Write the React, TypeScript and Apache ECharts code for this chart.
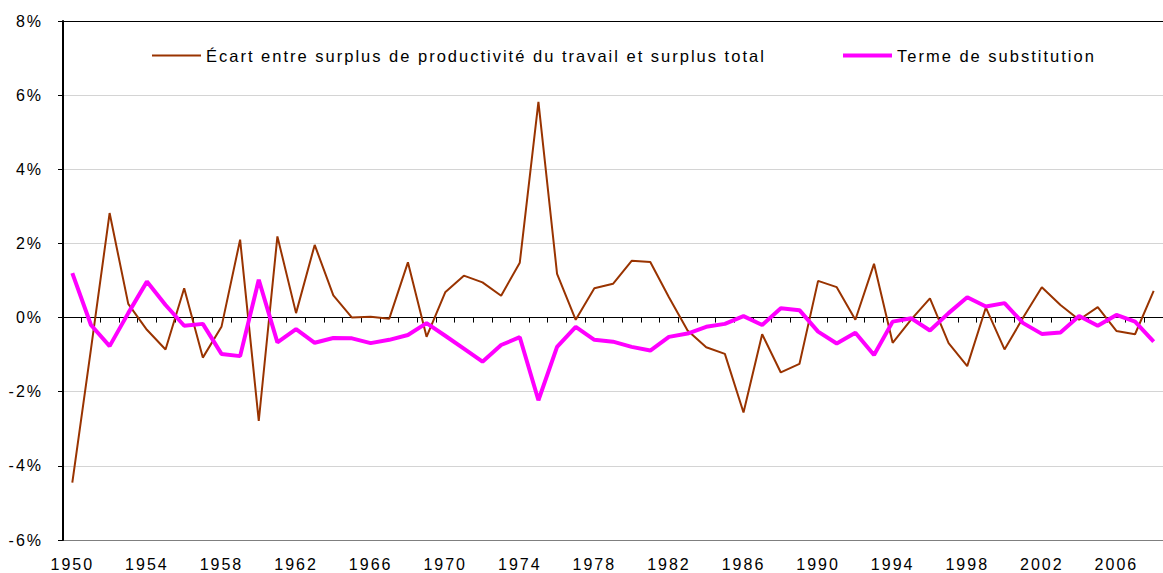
import React, { useEffect, useRef } from "react";
import * as echarts from "echarts";

const years: string[] = [];
for (let y = 1950; y <= 2008; y++) years.push(String(y));

const ecartSeries = [
  -4.45, -0.85, 2.82, 0.37, -0.33, -0.86, 0.79, -1.08, -0.25, 2.1,
  -2.79, 2.19, 0.12, 1.96, 0.6, 0.0, 0.02, -0.03, 1.49, -0.52,
  0.68, 1.13, 0.95, 0.59, 1.48, 5.82, 1.18, -0.06, 0.79, 0.91,
  1.53, 1.5, 0.55, -0.35, -0.8, -0.98, -2.56, -0.45, -1.48, -1.25,
  0.99, 0.82, -0.06, 1.45, -0.68, -0.05, 0.52, -0.69, -1.31, 0.27,
  -0.86, 0.0, 0.82, 0.34, -0.06, 0.28, -0.36, -0.45, 0.72,
];

const substitutionSeries = [
  1.2, -0.2, -0.77, 0.12, 0.97, 0.34, -0.22, -0.17, -0.98, -1.04,
  1.02, -0.67, -0.31, -0.68, -0.55, -0.56, -0.69, -0.6, -0.47, -0.15,
  -0.49, -0.84, -1.19, -0.74, -0.53, -2.23, -0.79, -0.25, -0.6, -0.65,
  -0.79, -0.89, -0.52, -0.43, -0.25, -0.17, 0.04, -0.2, 0.25, 0.2,
  -0.38, -0.7, -0.41, -1.01, -0.11, -0.02, -0.35, 0.12, 0.55, 0.3,
  0.39, -0.15, -0.44, -0.4, 0.04, -0.22, 0.07, -0.11, -0.65,
];

const name1 = "Écart entre surplus de productivité du travail et surplus total";
const name2 = "Terme de substitution";

const FONT = "'Liberation Sans', Arial, sans-serif";

export default function App() {
  const ref = useRef<HTMLDivElement>(null);
  useEffect(() => {
    if (!ref.current) return;
    const chart = echarts.init(ref.current, null, { renderer: "svg" });
    const legendBase = {
      top: 47,
      padding: 0,
      itemWidth: 49,
      itemHeight: 14,
      itemStyle: { opacity: 0 },
      textStyle: { fontSize: 16.5, color: "#000", fontFamily: FONT },
    };
    chart.setOption({
      animation: false,
      backgroundColor: "#ffffff",
      textStyle: { fontFamily: FONT, color: "#000" },
      grid: { left: 63, top: 21, width: 1110, height: 519, containLabel: false },
      legend: [
        { ...legendBase, data: [name1], left: 151, lineStyle: { width: 2 } },
        { ...legendBase, data: [name2], left: 841, lineStyle: { width: 4 } },
      ],
      xAxis: [
        {
          type: "category",
          data: years,
          boundaryGap: true,
          position: "bottom",
          axisLine: { show: false, onZero: false },
          axisTick: { show: false },
          splitLine: { show: false },
          axisLabel: {
            interval: 3,
            fontSize: 16,
            color: "#000",
            margin: 16,
            fontFamily: FONT,
          },
        },
        {
          type: "category",
          data: years,
          boundaryGap: true,
          position: "bottom",
          axisLine: { show: true, onZero: true, lineStyle: { color: "#000", width: 1 } },
          axisTick: { show: true, inside: false, interval: 0, length: 5, lineStyle: { color: "#000", width: 1 } },
          axisLabel: { show: false },
          splitLine: { show: false },
        },
      ],
      yAxis: {
        type: "value",
        min: -6,
        max: 8,
        interval: 2,
        axisLine: { show: true, onZero: false, lineStyle: { color: "#000", width: 2 } },
        axisTick: { show: true, length: 5, lineStyle: { color: "#000", width: 1 } },
        axisLabel: {
          formatter: (v: number) => v + "%",
          fontSize: 16,
          color: "#000",
          margin: 20,
          fontFamily: FONT,
        },
        splitLine: {
          show: true,
          lineStyle: {
            color: ["#7f7f7f", "#d4d4d4", "#d4d4d4", "#d4d4d4", "#d4d4d4", "#d4d4d4", "#d4d4d4", "#000000"],
            width: 1,
          },
        },
      },
      series: [
        {
          name: name1,
          type: "line",
          xAxisIndex: 0,
          data: ecartSeries,
          symbol: "none",
          lineStyle: { color: "#993300", width: 2 },
          itemStyle: { color: "#993300" },
        },
        {
          name: name2,
          type: "line",
          xAxisIndex: 0,
          data: substitutionSeries,
          symbol: "none",
          lineStyle: { color: "#ff00ff", width: 4 },
          itemStyle: { color: "#ff00ff" },
        },
      ],
    });
    return () => chart.dispose();
  }, []);
  return (
    <div
      ref={ref}
      style={{
        position: "fixed",
        left: 0,
        top: 0,
        width: 1163,
        height: 573,
        letterSpacing: "2px",
        background: "#fff",
      }}
    />
  );
}
